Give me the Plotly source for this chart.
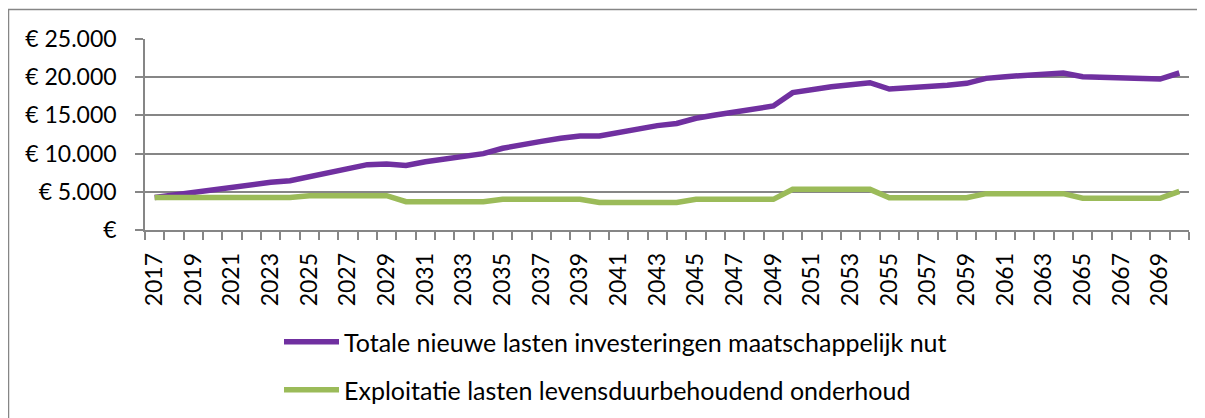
import plotly.graph_objects as go

years = [2017, 2018, 2019, 2020, 2021, 2022, 2023, 2024, 2025, 2026,
         2027, 2028, 2029, 2030, 2031, 2032, 2033, 2034, 2035, 2036,
         2037, 2038, 2039, 2040, 2041, 2042, 2043, 2044, 2045, 2046,
         2047, 2048, 2049, 2050, 2051, 2052, 2053, 2054, 2055, 2056,
         2057, 2058, 2059, 2060, 2061, 2062, 2063, 2064, 2065, 2066,
         2067, 2068, 2069, 2070]

totale_nieuwe_lasten = [
    4250, 4580, 4890, 5190, 5670, 5980, 6240, 6460, 6940, 7460,
    8030, 8550, 8650, 8450, 8940, 9340, 9690, 10000, 10700, 11200,
    11600, 12000, 12300, 12300, 12780, 13220, 13660, 13950, 14620, 15050,
    15490, 15880, 16230, 17980, 18410, 18760, 19020, 19280, 18450, 18590,
    18760, 18950, 19200, 19850, 20070, 20240, 20420, 20550, 20070, 20030,
    19980, 19900, 19760, 20550]

exploitatie_lasten = [
    4250, 4250, 4250, 4250, 4250, 4250, 4250, 4250, 4490, 4490,
    4490, 4490, 4490, 3710, 3710, 3710, 3710, 3710, 4010, 4010,
    4010, 4010, 4010, 3600, 3600, 3600, 3600, 3600, 4010, 4010,
    4010, 4010, 4010, 5320, 5320, 5320, 5320, 5320, 4220, 4220,
    4220, 4220, 4220, 4760, 4760, 4760, 4760, 4760, 4150, 4150,
    4150, 4150, 4150, 5060]

series_names = ["Totale nieuwe lasten investeringen maatschappelijk nut",
                "Exploitatie lasten levensduurbehoudend onderhoud"]
series_colors = ["#7030A0", "#9BBB59"]

y_tickvals = [0, 5000, 10000, 15000, 20000, 25000]
y_ticktext = ["€", "€ 5.000", "€ 10.000", "€ 15.000", "€ 20.000", "€ 25.000"]
x_tickvals = years[::2]
x_ticktext = [str(y) for y in x_tickvals]

FONT = "Lato, 'Open Sans', sans-serif"
GRAY = "#868686"

# page is offset by the body's default 8px margin
OFF = 8
W, H = 1205, 418
L, T = 145 - OFF, 39 - OFF
R = W - (1189 - OFF)
B = H - (230 - OFF)
pw, ph = W - L - R, H - T - B


def px_x(px):
    """page pixel x -> paper coordinate"""
    return (px - OFF - L) / pw


def px_y(py):
    """page pixel y -> paper coordinate"""
    return (H - B - (py - OFF)) / ph


fig = go.Figure()
fig.add_trace(go.Scatter(
    x=years, y=totale_nieuwe_lasten, mode="lines", name=series_names[0],
    line=dict(color=series_colors[0], width=5.5), legend="legend"))
fig.add_trace(go.Scatter(
    x=years, y=exploitatie_lasten, mode="lines", name=series_names[1],
    line=dict(color=series_colors[1], width=5.5), legend="legend2"))

legend_common = dict(
    xanchor="left", yanchor="middle", bgcolor="rgba(0,0,0,0)",
    font=dict(family=FONT, size=25, color="#000000"),
    itemwidth=55, borderwidth=0)

fig.update_layout(
    width=W, height=H,
    margin=dict(l=L, r=R, t=T, b=B, pad=0, autoexpand=False),
    paper_bgcolor="white", plot_bgcolor="white",
    showlegend=True,
    legend=dict(x=px_x(279), y=px_y(342), **legend_common),
    legend2=dict(x=px_x(279), y=px_y(390), **legend_common),
    font=dict(family=FONT, size=23, color="#000000"),
    xaxis=dict(
        range=[years[0] - 0.5, years[-1] + 0.5], automargin=False,
        tickmode="array", tickvals=x_tickvals, ticktext=x_ticktext,
        tickangle=-90, ticks="", showgrid=False, zeroline=False,
        showline=True, linecolor=GRAY, linewidth=1.5,
        ticklabelstandoff=12,
        tickfont=dict(family=FONT, size=23, color="#000000"),
        minor=dict(ticks="outside", tick0=years[0] - 0.5, dtick=1,
                   ticklen=8, tickcolor=GRAY, tickwidth=1.5, showgrid=False),
    ),
    yaxis=dict(
        range=[0, 25000], automargin=False,
        tickmode="array", tickvals=y_tickvals, ticktext=y_ticktext,
        ticks="outside", ticklen=8, tickcolor=GRAY, tickwidth=1.5,
        showgrid=True, gridcolor=GRAY, gridwidth=1.5,
        zeroline=False, showline=True, linecolor=GRAY, linewidth=1.5,
        ticklabelstandoff=14,
        tickfont=dict(family=FONT, size=23, color="#000000"),
    ),
    shapes=[dict(type="rect", xref="paper", yref="paper",
                 x0=px_x(8.5), x1=px_x(1230), y0=px_y(440), y1=px_y(9.5),
                 line=dict(color=GRAY, width=1.5), fillcolor="rgba(0,0,0,0)",
                 layer="below")],
)

fig.write_html("out.html")
